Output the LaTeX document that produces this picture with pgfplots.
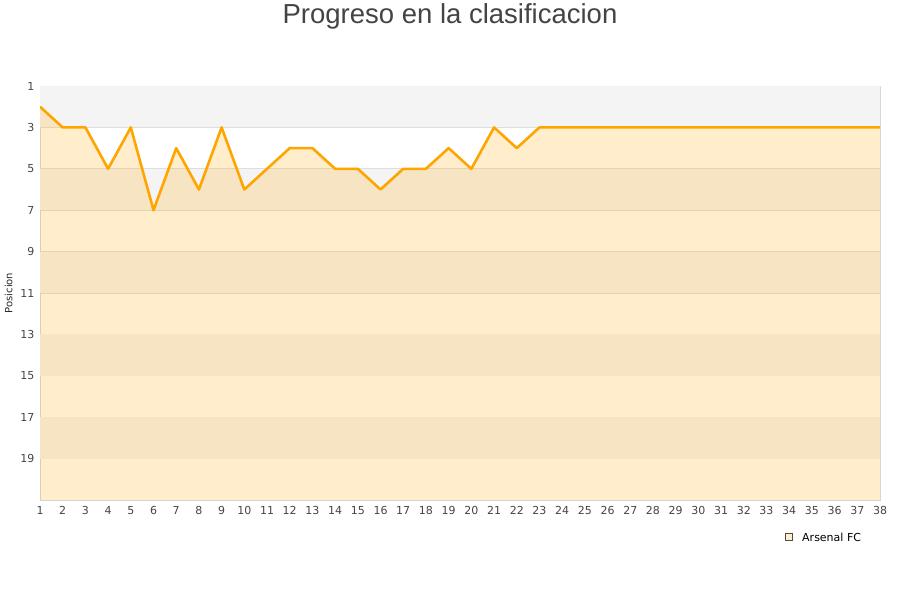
\documentclass[border=0pt]{standalone}
\usepackage{pgfplots}
\pgfplotsset{compat=1.18}
\usepackage{fontspec}
\setmainfont{DejaVu Sans}
\newfontfamily\titlefont{Liberation Sans}

\definecolor{lineorange}{RGB}{255,165,0}
\definecolor{bandgray}{RGB}{244,244,244}
\definecolor{gridgray}{RGB}{222,222,222}
\definecolor{axisgray}{RGB}{216,216,216}
\definecolor{ticktext}{RGB}{68,68,68}
\definecolor{titletext}{RGB}{68,68,68}

\begin{document}
\begin{tikzpicture}
\path[use as bounding box] (0,0) rectangle (900pt,-600pt);
\begin{axis}[
  at={(40pt,-500pt)}, anchor=south west,
  width=840pt, height=414pt, scale only axis,
  xmin=1, xmax=38, ymin=1, ymax=21,
  y dir=reverse,
  xtick={1,...,38},
  ytick={1,3,...,19},
  ymajorgrids,
  grid style={gridgray, line width=0.8pt},
  major tick style={draw=none},
  axis line style={axisgray, line width=0.8pt},
  tick label style={font=\fontsize{11pt}{13pt}\selectfont, text=ticktext},
  /pgf/number format/assume math mode=true,
  xticklabel style={yshift=-3pt},
  yticklabel style={xshift=-2pt},
  ylabel={Posicion},
  ylabel style={font=\fontsize{10pt}{12pt}\selectfont, text=black!85, at={(-24pt,0.5)}, anchor=south},
  clip=true,
]
% alternating bands
\fill[bandgray] (axis cs:1,1) rectangle (axis cs:38,3);
\fill[bandgray] (axis cs:1,5) rectangle (axis cs:38,7);
\fill[bandgray] (axis cs:1,9) rectangle (axis cs:38,11);
\fill[bandgray] (axis cs:1,13) rectangle (axis cs:38,15);
\fill[bandgray] (axis cs:1,17) rectangle (axis cs:38,19);
% area under line
\addplot[draw=none, fill=lineorange, fill opacity=0.2, forget plot] coordinates {
(1,2) (2,3) (3,3) (4,5) (5,3) (6,7) (7,4) (8,6) (9,3) (10,6)
(11,5) (12,4) (13,4) (14,5) (15,5) (16,6) (17,5) (18,5) (19,4) (20,5)
(21,3) (22,4) (23,3) (24,3) (25,3) (26,3) (27,3) (28,3) (29,3) (30,3)
(31,3) (32,3) (33,3) (34,3) (35,3) (36,3) (37,3) (38,3) (38,21) (1,21)
} -- cycle;
% line
\addplot[lineorange, line width=2.6pt, line join=round, forget plot] coordinates {
(1,2) (2,3) (3,3) (4,5) (5,3) (6,7) (7,4) (8,6) (9,3) (10,6)
(11,5) (12,4) (13,4) (14,5) (15,5) (16,6) (17,5) (18,5) (19,4) (20,5)
(21,3) (22,4) (23,3) (24,3) (25,3) (26,3) (27,3) (28,3) (29,3) (30,3)
(31,3) (32,3) (33,3) (34,3) (35,3) (36,3) (37,3) (38,3)
};
\end{axis}
% title
\node[font=\titlefont\fontsize{27.5pt}{32pt}\selectfont, text=titletext] at (450pt,-16pt) {Progreso en la clasificacion};
% legend
\draw[fill=lineorange!20, draw=black!70, line width=0.5pt] (785.5pt,-533.5pt) rectangle (792.5pt,-540.5pt);
\node[anchor=west, font=\fontsize{11pt}{13pt}\selectfont, inner sep=0pt] at (802pt,-537pt) {Arsenal FC};
\end{tikzpicture}
\end{document}
